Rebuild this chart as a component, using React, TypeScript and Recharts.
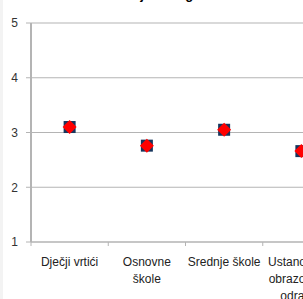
import React from 'react';
import { ComposedChart, Line, XAxis, YAxis, CartesianGrid } from 'recharts';

const categories = ['Dječji vrtići', 'Osnovne škole', 'Srednje škole', 'Ustanove za obrazovanje odraslih'];
const tickLines = [['Dječji vrtići'], ['Osnovne', 'škole'], ['Srednje škole'], ['Ustanove za', 'obrazovanje', 'odraslih']];
const averages = [3.1, 2.76, 3.05, 2.66];
const yTicks = [1, 2, 3, 4, 5];
const title = 'Ocjena angažmana';

const data = categories.map((name, i) => ({ name, value: averages[i] }));

const GRID = '#b4b4b4';
const FONT = "'Liberation Sans', Arial, sans-serif";

function CategoryTick(props: any) {
  const { x, y, payload, index } = props;
  const half = payload?.offset ?? 0;
  const lines = tickLines[index ?? payload?.index ?? 0] || [String(payload.value)];
  return (
    <g>
      <line x1={x - half} y1={y} x2={x - half} y2={y + 4} stroke={GRID} strokeWidth={1} />
      <text x={x} y={y + 24} textAnchor="middle" fontSize={12} fill="#222" fontFamily={FONT}>
        {lines.map((l: string, k: number) => (
          <tspan key={k} x={x} dy={k === 0 ? 0 : 17}>
            {l}
          </tspan>
        ))}
      </text>
    </g>
  );
}

function Marker(props: any) {
  const { cx, cy } = props;
  if (cx == null || cy == null) return null;
  return (
    <g>
      <rect x={cx - 6} y={cy - 6} width={12} height={12} fill="#17365d" />
      <polygon points={`${cx},${cy - 7} ${cx + 7},${cy} ${cx},${cy + 7} ${cx - 7},${cy}`} fill="#ff0000" />
    </g>
  );
}

export default function App() {
  return (
    <div style={{ position: 'absolute', left: 0, top: 0, width: 303, height: 299, overflow: 'hidden', background: '#fff' }}>
      <div style={{ position: 'absolute', left: 0, top: 0, width: 3, height: 299, background: '#f3f3f3' }} />
      <svg width={303} height={10} style={{ position: 'absolute', left: 0, top: 0 }}>
        <text x={123} y={-1.5} fontSize={13} fontWeight="bold" fill="#000" fontFamily={FONT}>
          {title}
        </text>
      </svg>
      <div style={{ position: 'absolute', left: 0, top: 0 }}>
        <ComposedChart width={360} height={299} data={data} margin={{ top: 23, right: 20, bottom: 0, left: 0 }}>
          <CartesianGrid vertical={false} stroke={GRID} strokeWidth={1.2} />
          <XAxis
            dataKey="name"
            scale="band"
            height={57}
            axisLine={{ stroke: GRID, strokeWidth: 1.2 }}
            tickLine={false}
            tickSize={0}
            tickMargin={0}
            interval={0}
            tick={<CategoryTick />}
          />
          <YAxis
            width={31}
            domain={[1, 5]}
            ticks={yTicks}
            allowDataOverflow
            axisLine={{ stroke: GRID, strokeWidth: 2 }}
            tickLine={{ stroke: GRID }}
            tickSize={5}
            tickMargin={8}
            tick={{ fontSize: 12, fill: '#333', fontFamily: FONT }}
          />
          <Line dataKey="value" stroke="none" dot={<Marker />} activeDot={false} isAnimationActive={false} />
        </ComposedChart>
      </div>
    </div>
  );
}
